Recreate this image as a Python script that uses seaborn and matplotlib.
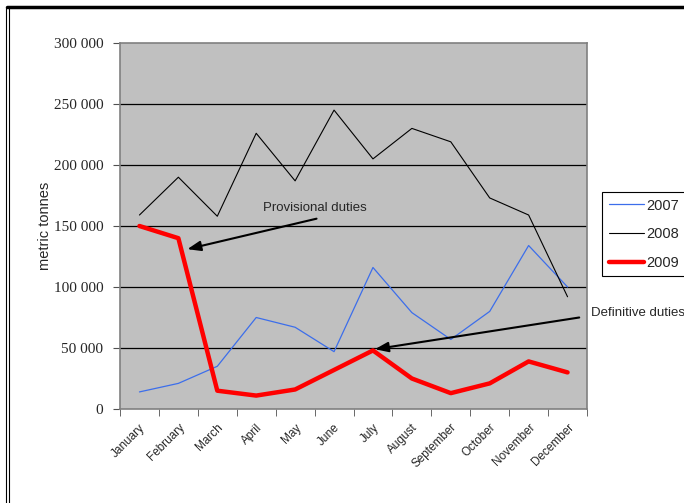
import matplotlib
matplotlib.use('Agg')
import matplotlib.pyplot as plt
from matplotlib.lines import Line2D
from matplotlib.ticker import FuncFormatter, FixedLocator
import seaborn as sns
import pandas as pd

months = ['January', 'February', 'March', 'April', 'May', 'June', 'July',
          'August', 'September', 'October', 'November', 'December']
y2007 = [14000, 21000, 35000, 75000, 67000, 47000, 116000, 79000, 57000, 80000, 134000, 100000]
y2008 = [159000, 190000, 158000, 226000, 187000, 245000, 205000, 230000, 219000, 173000, 159000, 92000]
y2009 = [150000, 140000, 15000, 11000, 16000, 32000, 48000, 25000, 13000, 21000, 39000, 30000]

sns.set_style("white")
fig = plt.figure(figsize=(6.84, 5.03), dpi=100)
ax = fig.add_axes([120/684, 1-409/503, 467/684, 366/503])
ax.set_facecolor('#C0C0C0')

df = pd.DataFrame({'month': months, '2007': y2007, '2008': y2008, '2009': y2009})
sns.lineplot(data=df, x='month', y='2007', color='#3C6EEB', linewidth=0.9, label='2007', ax=ax)
sns.lineplot(data=df, x='month', y='2008', color='black', linewidth=0.8, label='2008', ax=ax)
sns.lineplot(data=df, x='month', y='2009', color='#FF0000', linewidth=3.2, label='2009', ax=ax)

ax.set_xlim(-0.5, 11.5)
ax.set_ylim(0, 300000)
ax.set_yticks(range(0, 300001, 50000))
ax.yaxis.set_major_formatter(FuncFormatter(lambda v, p: f"{int(v):,}".replace(',', ' ')))
for lbl in ax.get_yticklabels():
    lbl.set_family('Liberation Serif')
    lbl.set_fontsize(11)
for yv in range(50000, 300000, 50000):
    ax.axhline(yv, color='black', linewidth=0.9, zorder=1)

ax.set_xticks(range(12))
ax.set_xticklabels(months, rotation=45, ha='right', rotation_mode='anchor', fontsize=8.5,
                   family='Liberation Sans')
ax.xaxis.set_minor_locator(FixedLocator([i - 0.5 for i in range(13)]))
ax.tick_params(axis='x', which='major', length=0, pad=9)
ax.tick_params(axis='x', which='minor', length=5, color='#505050', direction='out', bottom=True)
ax.tick_params(axis='y', length=5, color='#505050', direction='out', left=True, pad=7)
ax.set_xlabel('')
ax.set_ylabel('metric tonnes', fontsize=10.5, labelpad=1, family='Liberation Sans')
for s in ax.spines.values():
    s.set_color('#808080')
    s.set_linewidth(1.2)

leg = ax.legend(loc='upper left', bbox_to_anchor=(602/684, 1-192/503), bbox_transform=fig.transFigure,
                frameon=True, fancybox=False, edgecolor='black', facecolor='white', framealpha=1,
                prop={'family': 'Liberation Sans', 'size': 10.5}, handlelength=2.4, labelspacing=1.0,
                borderpad=0.45, handletextpad=0.2, borderaxespad=0)
leg.get_frame().set_linewidth(0.8)

arrow = dict(arrowstyle='-|>,head_length=0.8,head_width=0.3', color='black', lw=1.5, shrinkA=0, shrinkB=0)
ax.text(4.5, 165000, 'Provisional duties', fontsize=9.5, ha='center', va='center', family='Liberation Sans')
ax.annotate('', xy=(1.23, 131000), xytext=(4.55, 156000), arrowprops=arrow)
ax.annotate('', xy=(6.05, 49000), xytext=(11.3, 75000), arrowprops=arrow, annotation_clip=False)
ax.text(11.6, 78500, 'Definitive duties', fontsize=9.5, ha='left', va='center', clip_on=False,
        family='Liberation Sans')

fig.add_artist(Line2D([7/684, 1], [1-7/503, 1-7/503], color='black', linewidth=2.5, transform=fig.transFigure))
fig.add_artist(Line2D([6/684, 6/684], [0, 1-7/503], color='black', linewidth=0.8, transform=fig.transFigure))
fig.add_artist(Line2D([9/684, 9/684], [0, 1-7/503], color='black', linewidth=0.8, transform=fig.transFigure))

fig.savefig('out.png', dpi=100)
